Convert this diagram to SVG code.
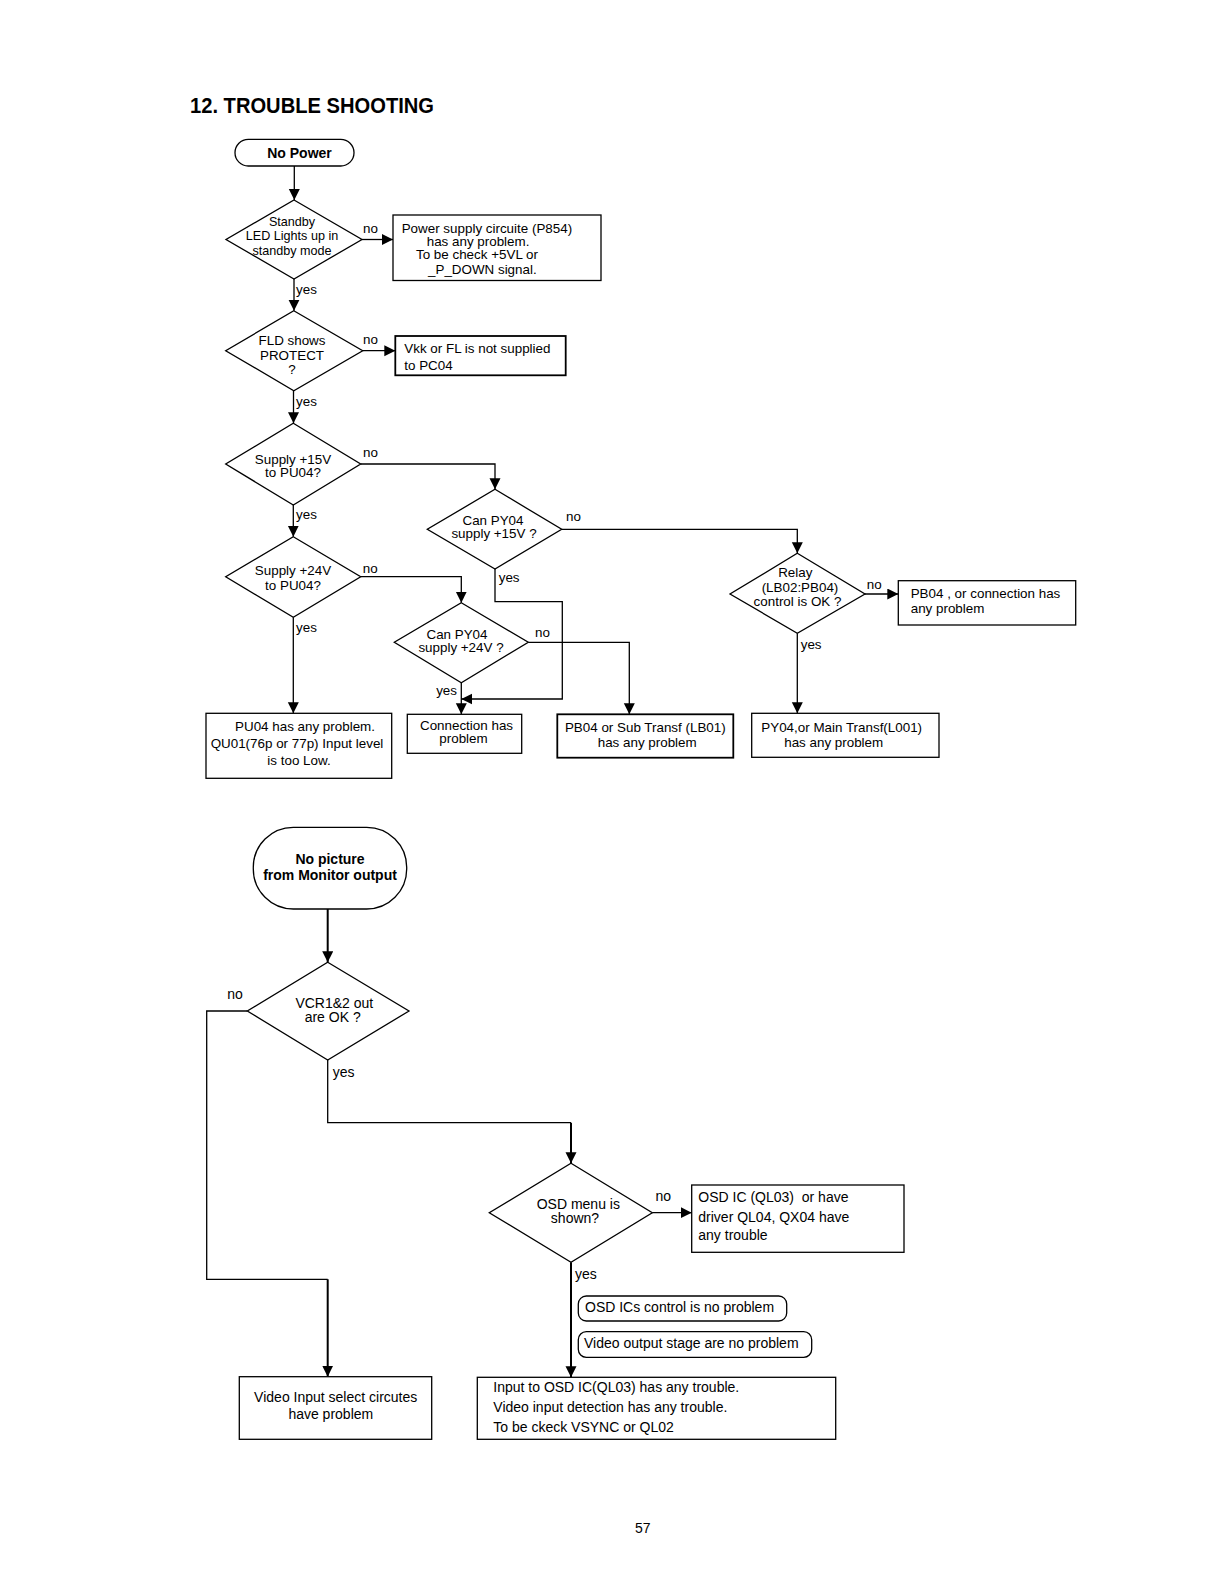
<svg xmlns="http://www.w3.org/2000/svg" width="1219" height="1582" viewBox="0 0 1219 1582">
<style>
text{font-family:"Liberation Sans",Arial,sans-serif;fill:#000;white-space:pre}
.t{font-size:13.4px}
.s{font-size:12.6px}
.m{font-size:14px}
.b{font-weight:bold}
.c{text-anchor:middle}
.e{text-anchor:end}
.shape{fill:#fff;stroke:#000;stroke-width:1.3}
.thick{stroke-width:1.8}
.ln{fill:none;stroke:#000;stroke-width:1.3}
.lnb{fill:none;stroke:#000;stroke-width:2}
</style>
<defs>
<marker id="ah" markerUnits="userSpaceOnUse" markerWidth="12" markerHeight="12" refX="11" refY="5.5" orient="auto">
<path d="M0,0 L11,5.5 L0,11 z" fill="#000"/>
</marker>
</defs>
<rect width="1219" height="1582" fill="#fff"/>
<text x="190" y="113" class="b" font-size="21.5" textLength="244" lengthAdjust="spacingAndGlyphs">12. TROUBLE SHOOTING</text>

<g id="connectors">
<line class="ln" x1="294.3" y1="166" x2="294.3" y2="200" marker-end="url(#ah)"/>
<line class="ln" x1="362" y1="239.5" x2="393" y2="239.5" marker-end="url(#ah)"/>
<line class="ln" x1="294" y1="279" x2="294" y2="310.7" marker-end="url(#ah)"/>
<line class="ln" x1="362.7" y1="350.7" x2="395.3" y2="350.7" marker-end="url(#ah)"/>
<line class="ln" x1="293.5" y1="390.7" x2="293.5" y2="423.3" marker-end="url(#ah)"/>
<polyline class="ln" points="360.7,464 495,464 495,489.3" marker-end="url(#ah)"/>
<polyline class="ln" points="561.7,529.3 797.3,529.3 797.3,553.3" marker-end="url(#ah)"/>
<polyline class="ln" points="495,569 495,601.7 562.3,601.7 562.3,699 461.3,699" marker-end="url(#ah)"/>
<line class="ln" x1="293.3" y1="505" x2="293.3" y2="536.7" marker-end="url(#ah)"/>
<polyline class="ln" points="360.7,576.7 461.3,576.7 461.3,602.7" marker-end="url(#ah)"/>
<polyline class="ln" points="528.3,642.3 629.3,642.3 629.3,714.3" marker-end="url(#ah)"/>
<line class="ln" x1="461.3" y1="682.7" x2="461.3" y2="714.3" marker-end="url(#ah)"/>
<line class="ln" x1="293.3" y1="617.3" x2="293.3" y2="713.3" marker-end="url(#ah)"/>
<line class="ln" x1="865" y1="594" x2="898.3" y2="594" marker-end="url(#ah)"/>
<line class="ln" x1="797.3" y1="633.3" x2="797.3" y2="713.3" marker-end="url(#ah)"/>

<line class="lnb" x1="327.7" y1="909" x2="327.7" y2="962.3" marker-end="url(#ah)"/>
<polyline class="ln" points="247.3,1011 206.7,1011 206.7,1279.3 327.7,1279.3"/>
<line class="lnb" x1="327.7" y1="1279.3" x2="327.7" y2="1376.7" marker-end="url(#ah)"/>
<polyline class="ln" points="327.7,1060 327.7,1122.7 571,1122.7"/>
<line class="lnb" x1="571" y1="1122.7" x2="571" y2="1163.3" marker-end="url(#ah)"/>
<line class="ln" x1="652.3" y1="1212.7" x2="691.7" y2="1212.7" marker-end="url(#ah)"/>
<line class="lnb" x1="571" y1="1262.3" x2="571" y2="1377.3" marker-end="url(#ah)"/>

<text x="363" y="232.5" class="t">no</text>
<text x="296" y="293.5" class="t">yes</text>
<text x="363" y="344" class="t">no</text>
<text x="296" y="406" class="t">yes</text>
<text x="363" y="457" class="t">no</text>
<text x="566" y="520.5" class="t">no</text>
<text x="296" y="518.5" class="t">yes</text>
<text x="498.7" y="581.7" class="t">yes</text>
<text x="362.7" y="572.5" class="t">no</text>
<text x="535" y="637" class="t">no</text>
<text x="457" y="694.7" class="t e">yes</text>
<text x="296" y="631.7" class="t">yes</text>
<text x="866.7" y="588.5" class="t">no</text>
<text x="800.7" y="648.5" class="t">yes</text>
<text x="235" y="999" class="m c">no</text>
<text x="332.7" y="1077" class="m">yes</text>
<text x="663.3" y="1201.2" class="m c">no</text>
<text x="575" y="1279.3" class="m">yes</text>
</g>

<g id="n-nopower">
<rect class="shape" x="235" y="139.3" width="119" height="26.7" rx="13.3"/>
<text x="299.5" y="158" class="m b c">No Power</text>
</g>
<g id="d-standby">
<polygon class="shape" points="294,200 362,239.5 294,279 226,239.5"/>
<text x="292" y="225.5" class="s c">Standby</text>
<text x="292" y="240" class="s c">LED Lights up in</text>
<text x="292" y="254.5" class="s c">standby mode</text>
</g>
<g id="b-power">
<rect class="shape" x="393" y="215" width="208" height="65.5"/>
<text x="401.7" y="233" class="t">Power supply circuite (P854)</text>
<text x="426.7" y="246" class="t">has any problem.</text>
<text x="416" y="259.4" class="t">To be check +5VL or</text>
<text x="428" y="273.5" class="t">_P_DOWN signal.</text>
</g>
<g id="d-fld">
<polygon class="shape" points="293.8,310.7 362.7,350.7 293.8,390.7 225.7,350.7"/>
<text x="292" y="344.7" class="t c">FLD shows</text>
<text x="292" y="360" class="t c">PROTECT</text>
<text x="292" y="374" class="t c">?</text>
</g>
<g id="b-vkk">
<rect class="shape thick" x="395.3" y="336" width="170.4" height="39.3"/>
<text x="404.3" y="353" class="t">Vkk or FL is not supplied</text>
<text x="404.3" y="369.7" class="t">to PC04</text>
</g>
<g id="d-15v">
<polygon class="shape" points="293.3,423.3 360.7,464 293.3,505 225.7,464"/>
<text x="293" y="463.7" class="t c">Supply +15V</text>
<text x="293" y="477.4" class="t c">to PU04?</text>
</g>
<g id="d-py15">
<polygon class="shape" points="495,489.3 561.7,529.3 495,569 427.3,529.3"/>
<text x="493" y="524.7" class="t c">Can PY04</text>
<text x="494" y="538" class="t c">supply +15V ?</text>
</g>
<g id="d-24v">
<polygon class="shape" points="293.3,536.7 360.7,576.7 293.3,617.3 225.7,576.7"/>
<text x="293" y="575.4" class="t c">Supply +24V</text>
<text x="293" y="589.7" class="t c">to PU04?</text>
</g>
<g id="d-py24">
<polygon class="shape" points="461.3,602.7 528.3,642.3 461.3,682.7 394.3,642.3"/>
<text x="457" y="639" class="t c">Can PY04</text>
<text x="461" y="652.4" class="t c">supply +24V ?</text>
</g>
<g id="d-relay">
<polygon class="shape" points="797.3,553.3 865,594 797.3,633.3 730,594"/>
<text x="795.3" y="577" class="t c">Relay</text>
<text x="800" y="592" class="t c">(LB02:PB04)</text>
<text x="797.5" y="605.7" class="t c">control is OK ?</text>
</g>
<g id="b-pb04conn">
<rect class="shape" x="898.3" y="580.7" width="177.4" height="44.3"/>
<text x="910.7" y="598" class="t">PB04 , or connection has</text>
<text x="910.7" y="613" class="t">any problem</text>
</g>
<g id="b-pu04">
<rect class="shape" x="206" y="713.3" width="185.7" height="65"/>
<text x="305" y="730.7" class="t c">PU04 has any problem.</text>
<text x="297" y="748" class="t c">QU01(76p or 77p) Input level</text>
<text x="299" y="764.7" class="t c">is too Low.</text>
</g>
<g id="b-conn">
<rect class="shape" x="407.3" y="714.3" width="114.4" height="39"/>
<text x="466.5" y="729.7" class="t c">Connection has</text>
<text x="463.5" y="743" class="t c">problem</text>
</g>
<g id="b-sub">
<rect class="shape thick" x="557.3" y="714.3" width="176" height="43.4"/>
<text x="645.3" y="732.3" class="t c">PB04 or Sub Transf (LB01)</text>
<text x="647.2" y="747" class="t c">has any problem</text>
</g>
<g id="b-main">
<rect class="shape" x="751.7" y="713.3" width="187.3" height="44"/>
<text x="841.7" y="732.3" class="t c">PY04,or Main Transf(L001)</text>
<text x="833.7" y="747" class="t c">has any problem</text>
</g>

<g id="n-nopicture">
<rect class="shape" x="253.3" y="827.3" width="153.4" height="81.7" rx="40"/>
<text x="330" y="864.3" class="m b c">No picture</text>
<text x="330" y="880" class="m b c">from Monitor output</text>
</g>
<g id="d-vcr">
<polygon class="shape" points="327.7,962.3 409,1011 327.7,1060 247.3,1011"/>
<text x="334.3" y="1007.7" class="m c">VCR1&amp;2 out</text>
<text x="332.7" y="1022.3" class="m c">are OK ?</text>
</g>
<g id="b-vinput">
<rect class="shape" x="239.3" y="1376.7" width="192.4" height="62.6"/>
<text x="335.7" y="1401.7" class="m c">Video Input select circutes</text>
<text x="330.8" y="1419.3" class="m c">have problem</text>
</g>
<g id="d-osd">
<polygon class="shape" points="571,1163.3 652.3,1212.7 571,1262.3 489.3,1212.7"/>
<text x="578.3" y="1209.3" class="m c">OSD menu is</text>
<text x="575" y="1223.3" class="m c">shown?</text>
</g>
<g id="b-osdic">
<rect class="shape" x="691.7" y="1185" width="212.3" height="67.3"/>
<text x="698.3" y="1201.7" class="m">OSD IC (QL03)  or have</text>
<text x="698.3" y="1221.7" class="m">driver QL04, QX04 have</text>
<text x="698.3" y="1240" class="m">any trouble</text>
</g>
<g id="n-osdok">
<rect class="shape" x="578.3" y="1296" width="208.4" height="25" rx="8"/>
<text x="585" y="1312.3" class="m">OSD ICs control is no problem</text>
</g>
<g id="n-videook">
<rect class="shape" x="578.3" y="1331.7" width="233.4" height="25.6" rx="8"/>
<text x="584" y="1348.3" class="m">Video output stage are no problem</text>
</g>
<g id="b-input">
<rect class="shape" x="477.3" y="1377.3" width="358.4" height="62"/>
<text x="493.3" y="1392.3" class="m">Input to OSD IC(QL03) has any trouble.</text>
<text x="493.3" y="1411.7" class="m">Video input detection has any trouble.</text>
<text x="493.3" y="1431.7" class="m">To be ckeck VSYNC or QL02</text>
</g>

<text x="642.7" y="1532.5" class="m c">57</text>
</svg>
